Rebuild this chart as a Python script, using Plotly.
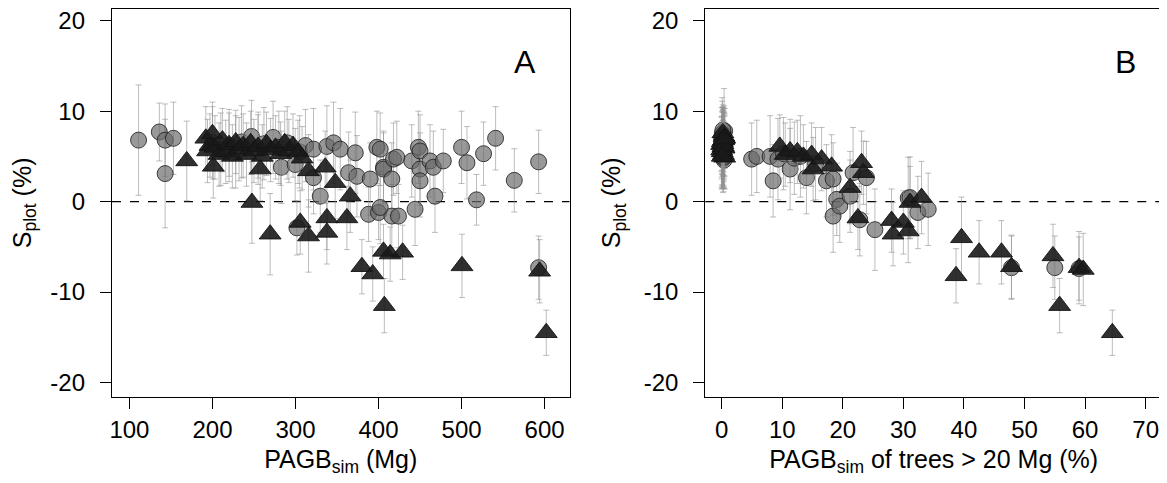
import plotly.graph_objects as go

# ---------------- Panel A data (PAGB_sim, Mg) ----------------
a_circ_x = [111, 136, 143, 143, 153, 200, 210, 220, 228, 235, 247, 255, 262, 273, 280, 283, 290,
            299.6, 301.7, 305, 312, 321.7, 321.7, 329.8, 337.8, 345.8, 353.9, 364, 372, 374, 390,
            388, 398, 400, 402, 406, 406, 416, 418, 422, 416, 424, 440, 444, 448, 450, 450, 450,
            462, 466, 468, 478, 500, 506.5, 518, 526.5, 541, 563.5, 592.8, 592.8, 402]
a_circ_y = [6.8, 7.7, 6.8, 3.1, 7.0, 6.5, 5.8, 6.2, 5.5, 6.6, 7.2, 5.9, 6.4, 7.1, 6.0, 3.8, 6.5,
            4.1, -2.9, 5.5, 6.2, 5.8, 2.65, 0.6, 6.1, 6.5, 5.8, 3.2, 5.4, 2.8, 2.5,
            -1.4, 6.0, -1.2, 5.8, 3.8, 3.6, 2.5, 4.7, 4.9, -1.6, -1.6, 4.5, -0.85, 6.0, 5.6, 3.6, 2.3,
            4.5, 3.8, 0.6, 4.5, 6.0, 4.3, 0.2, 5.3, 7.0, 2.35, 4.4, -7.3, -0.65]
a_circ_e = [6.1, 3.2, 4.0, 6.0, 4.0, 4.0, 4.0, 4.0, 4.0, 4.0, 4.0, 4.0, 4.0, 4.0, 4.0, 4.0, 4.0,
            4.0, 3.0, 4.0, 4.0, 4.5, 4.0, 4.0, 4.5, 4.5, 4.5, 4.5, 4.5, 4.5, 4.0,
            3.0, 4.0, 3.0, 4.0, 4.0, 4.0, 4.0, 4.0, 4.0, 3.5, 3.5, 4.0, 4.0, 4.0, 4.0, 4.0, 4.0,
            4.0, 4.0, 4.0, 3.5, 4.0, 4.0, 2.8, 3.5, 3.5, 3.5, 3.5, 3.5, 4.0]

a_tri_x = [192, 194, 197, 200, 203, 208, 212, 216, 220, 224, 228, 232, 237, 241, 246, 250, 255,
           260, 265, 270, 276, 282, 287, 292, 297, 303, 308, 169, 201, 247.5, 257.5, 269.5, 305.7,
           315.7, 315.7, 335.8, 347.8, 337.8, 337.8, 361.9, 365.9, 380, 393, 406, 407, 414, 429,
           500.5, 594, 602]
a_tri_y = [7.0, 5.6, 6.2, 7.5, 6.0, 5.2, 6.8, 5.5, 6.3, 5.0, 6.6, 5.8, 6.2, 5.2, 6.5, 5.6, 6.1,
           5.0, 6.4, 5.7, 6.0, 5.3, 6.5, 5.6, 6.2, 5.5, 4.8, 4.5, 3.9, -0.1, 3.6, -3.6, -2.3,
           -3.8, 3.4, 3.8, 2.1, -1.8, -3.4, -1.8, 0.6, -7.2, -8.0, -5.5, -11.5, -5.8, -5.6,
           -7.1, -7.7, -14.5]
a_tri_e = [3.5] * 27 + [4.4, 3.5, 4.5, 3.5, 4.5, 3.5, 4.0, 4.0, 4.0, 4.0, 3.5, 3.5, 3.5, 4.0,
                        3.0, 3.0, 3.0, 3.0, 3.0, 3.0, 3.5, 3.5, 2.5]

# ---------------- Panel B data (PAGB_sim of trees > 20 Mg, %) ----------------
b_circ_x = [0.1, 0.3, 0.2, 0.5, 0.0, 0.4, 0.1, 0.3, 0.2, 0.5, 0.0, 0.4, 0.2, 0.3, 0.1, 0.4,
            0.0, 0.2, 0.5, 0.3, 0.1, 0.4, 0.2, 0.0, 0.3, 0.5, 0.1, 0.2,
            4.95, 5.8, 8.0, 8.5, 9.3, 10.2, 11.3, 12.0, 13.0, 14.0, 15.5, 17.3, 18.4, 19.0,
            18.4, 19.5, 21.2, 21.7, 23.9, 22.8, 25.3, 30.8, 31.1, 32.4, 34.1, 47.85, 55.0, 59.0]
b_circ_y = [7.5, 6.8, 6.2, 5.8, 5.4, 7.0, 6.5, 4.8, 6.0, 7.8, 5.2, 6.6, 7.2, 5.6, 6.3, 4.6,
            6.9, 5.0, 6.1, 7.4, 5.9, 6.4, 7.9, 5.5, 4.9, 6.7, 7.1, 5.3,
            4.7, 5.0, 5.0, 2.3, 4.7, 5.3, 3.6, 4.8, 5.0, 2.65, 4.2, 2.3, 2.5, 0.25,
            -1.6, -0.5, 0.6, 3.2, 2.65, -2.0, -3.1, 0.4, 0.45, -1.2, -0.85, -7.3, -7.3, -7.4]
b_circ_e = [4.0, 3.5, 4.5, 3.0, 4.0, 5.5, 3.5, 3.0, 4.5, 2.5, 3.5, 4.0, 3.0, 4.5, 2.5, 3.0,
            3.5, 4.0, 2.0, 3.0, 4.0, 3.5, 2.5, 3.0, 3.5, 3.0, 4.0, 2.5,
            4.0, 4.0, 4.5, 4.0, 4.5, 4.0, 4.5, 4.0, 4.5, 4.0, 4.0, 4.0, 4.0, 4.0,
            4.0, 4.0, 4.0, 5.0, 4.0, 4.0, 4.5, 4.5, 4.5, 4.0, 4.0, 3.5, 3.5, 3.5]

b_tri_x = [0.2, 0.4, 0.1, 0.3, 0.5, 0.0, 0.2, 0.4, 0.1, 0.3, 0.5, 0.2, 0.0, 0.3, 0.4, 0.1,
           9.6, 10.5, 11.3, 12.5, 13.5, 14.85, 15.1, 16.5, 18.15, 21.2, 22.5, 23.1, 23.4,
           28.05, 28.3, 30.0, 30.8, 31.1, 33.0, 38.7, 39.6, 42.5, 46.2, 47.85, 54.7, 55.8,
           59.0, 59.7, 64.5]
b_tri_y = [6.0, 7.2, 5.5, 6.8, 4.9, 6.3, 7.6, 5.9, 6.6, 5.2, 7.0, 6.4, 5.7, 6.1, 6.9, 5.0,
           6.1, 5.2, 5.6, 5.5, 5.0, 5.2, 3.6, 4.7, 3.9, 1.55, -1.8, 4.3, 3.2,
           -2.1, -3.6, -2.3, -3.25, -0.1, 0.45, -8.2, -4.0, -5.6, -5.6, -7.2, -6.0, -11.5,
           -7.3, -7.5, -14.5]
b_tri_e = [3.0, 2.5, 4.0, 3.0, 3.5, 3.0, 2.5, 3.5, 2.0, 3.0, 2.5, 3.5, 3.0, 2.5, 3.0, 3.5,
           3.5, 3.5, 3.5, 3.5, 3.5, 3.5, 3.5, 3.5, 3.5, 4.0, 3.5, 3.5, 3.5,
           3.5, 3.5, 3.5, 3.5, 4.0, 4.0, 3.0, 4.5, 3.5, 3.5, 3.5, 3.5, 3.0, 4.0, 4.0, 2.5]

x_ticks_a = [100, 200, 300, 400, 500, 600]
x_ticks_b = [0, 10, 20, 30, 40, 50, 60, 70]
y_ticks = [-20, -10, 0, 10, 20]
y_tick_text = ["-20", "-10", "0", "10", "20"]

FONT = "Liberation Sans, Arial, sans-serif"
CIRC_FILL = "rgba(105,105,105,0.68)"
CIRC_LINE = "rgba(35,35,35,0.85)"
TRI_FILL = "rgba(25,25,25,0.9)"
ERR = "rgba(145,145,145,0.6)"

# the plot div sits 8 px into the page (default body margin): work in figure pixels
OFF = 8
W, H = 1167 - OFF, 483 - OFF

def fx(px):
    return min(1.0, max(0.0, (px - OFF) / W))

def fy(py):
    return min(1.0, max(0.0, 1 - (py - OFF) / H))

fig = go.Figure()

def add_series(x, y, e, xa, ya, symbol, size, fill, line):
    fig.add_trace(go.Scatter(
        x=x, y=y, mode="markers", xaxis=xa, yaxis=ya, showlegend=False,
        marker=dict(symbol=symbol, size=size, color=fill, line=dict(color=line, width=1)),
        error_y=dict(type="data", array=e, visible=True, color=ERR, thickness=1, width=3),
    ))

add_series(a_circ_x, a_circ_y, a_circ_e, "x", "y", "circle", 16, CIRC_FILL, CIRC_LINE)
add_series(a_tri_x, a_tri_y, a_tri_e, "x", "y", "triangle-up", 19, TRI_FILL, "rgba(20,20,20,0.9)")
add_series(b_circ_x, b_circ_y, b_circ_e, "x2", "y2", "circle", 16, CIRC_FILL, CIRC_LINE)
add_series(b_tri_x, b_tri_y, b_tri_e, "x2", "y2", "triangle-up", 19, TRI_FILL, "rgba(20,20,20,0.9)")

axis_common = dict(showgrid=False, zeroline=False, showline=True, linecolor="black", linewidth=1.3,
                   mirror=True, ticks="outside", ticklen=11, tickwidth=1.3, tickcolor="black",
                   tickfont=dict(family=FONT, size=24, color="black"), automargin=False)
yaxis_extra = dict(ticklabelstandoff=10, ticklabeloverflow="allow")

ydom = [fy(397), fy(8.7)]
Y_RANGE = [-21.6, 21.33]
TITLE_FONT = dict(family=FONT, size=25, color="black")
fig.update_layout(
    width=W, height=H, margin=dict(l=0, r=0, t=0, b=0),
    paper_bgcolor="white", plot_bgcolor="white",
    font=dict(family=FONT, color="black"),
    xaxis=dict(axis_common, domain=[fx(112), fx(569.5)], range=[79, 630], tickvals=x_ticks_a,
               title=dict(text="PAGB<sub>sim</sub> (Mg)", font=TITLE_FONT, standoff=8)),
    yaxis=dict(axis_common, **yaxis_extra, domain=ydom, range=Y_RANGE, tickvals=y_ticks,
               ticktext=y_tick_text, anchor="x",
               title=dict(text="S<sub>plot</sub> (%)", font=TITLE_FONT, standoff=15)),
    xaxis2=dict(axis_common, domain=[fx(705.3), fx(1162)], range=[-2.7, 72.7], tickvals=x_ticks_b,
                anchor="y2",
                title=dict(text="PAGB<sub>sim</sub> of trees > 20 Mg (%)", font=TITLE_FONT, standoff=8)),
    yaxis2=dict(axis_common, **yaxis_extra, domain=ydom, range=Y_RANGE, tickvals=y_ticks,
                ticktext=y_tick_text, anchor="x2",
                title=dict(text="S<sub>plot</sub> (%)", font=TITLE_FONT, standoff=15)),
)

for xr, yr in (("x", "y"), ("x2", "y2")):
    fig.add_shape(type="line", xref=f"{xr} domain", yref=yr, x0=0, x1=1, y0=0, y1=0,
                  line=dict(color="black", width=1.3, dash="dash"), layer="below")

fig.add_annotation(text="A", xref="x domain", yref="y domain", x=0.903, y=0.864, showarrow=False,
                   xanchor="center", yanchor="middle", font=dict(family=FONT, size=32, color="black"))
fig.add_annotation(text="B", xref="x2 domain", yref="y2 domain", x=0.919, y=0.864, showarrow=False,
                   xanchor="center", yanchor="middle", font=dict(family=FONT, size=32, color="black"))

fig.write_html("out.html")
